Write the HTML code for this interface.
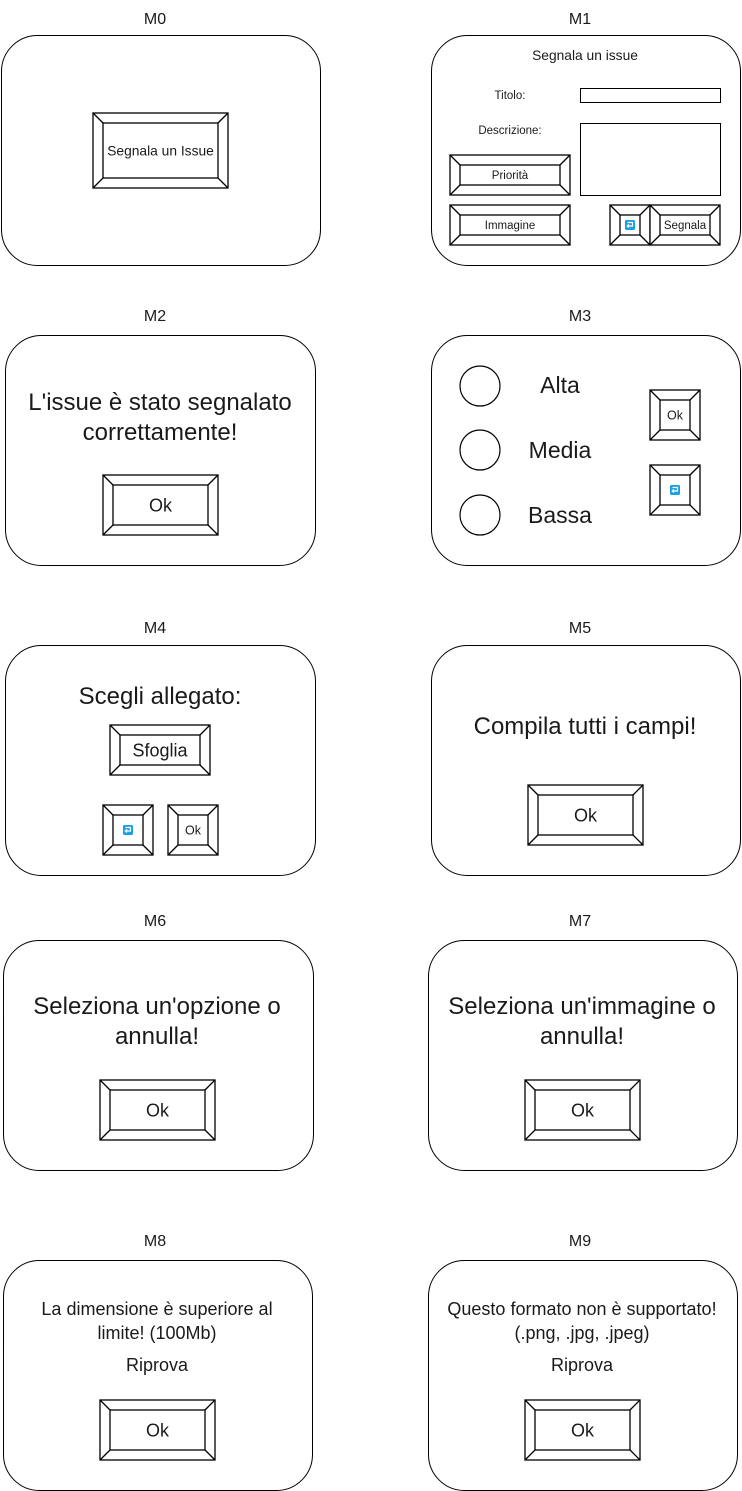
<!DOCTYPE html>
<html><head><meta charset="utf-8"><style>
html,body{margin:0;padding:0;background:#fff;width:742px;height:1491px;overflow:hidden}
svg{display:block}
text{font-family:"Liberation Sans",sans-serif;fill:#1a1a1a;text-anchor:middle}
</style></head><body>
<svg id="s" width="742" height="1491" xmlns="http://www.w3.org/2000/svg"></svg>
<script>
var o='';
function box(x1,y1,x2,y2){o+='<rect x="'+(x1+.5)+'" y="'+(y1+.5)+'" width="'+(x2-x1)+'" height="'+(y2-y1)+'" rx="36" ry="36" fill="#fff" stroke="#000" stroke-width="1"/>';}
function t(x,y,s,str){o+='<text x="'+x+'" y="'+y+'" font-size="'+s+'">'+str+'</text>';}
function btn(x1,y1,x2,y2,label,fs,icon){var i=10;
 o+='<g stroke="#000" stroke-width="1.3" fill="#fff"><rect x="'+x1+'" y="'+y1+'" width="'+(x2-x1)+'" height="'+(y2-y1)+'"/>';
 o+='<rect x="'+(x1+i)+'" y="'+(y1+i)+'" width="'+(x2-x1-2*i)+'" height="'+(y2-y1-2*i)+'"/>';
 o+='<path d="M'+x1+' '+y1+'L'+(x1+i)+' '+(y1+i)+'M'+x2+' '+y1+'L'+(x2-i)+' '+(y1+i)+'M'+x1+' '+y2+'L'+(x1+i)+' '+(y2-i)+'M'+x2+' '+y2+'L'+(x2-i)+' '+(y2-i)+'"/></g>';
 var cx=(x1+x2)/2,cy=(y1+y2)/2;
 if(icon){o+='<rect x="'+(cx-5)+'" y="'+(cy-5)+'" width="10" height="10" rx="1.5" fill="#1ba1e2"/><path d="M'+(cx-2.5)+' '+(cy-2.5)+'H'+(cx+2.5)+'V'+(cy+1)+'H'+(cx-2.5)+'M'+(cx-1)+' '+(cy-0.5)+'L'+(cx-2.7)+' '+(cy+1)+'L'+(cx-1)+' '+(cy+2.5)+'" stroke="#fff" stroke-width="1.2" fill="none"/>';}
 else t(cx,cy+fs*0.36,fs,label);}
[['M0',155,24],['M1',580,24],['M2',155,321],['M3',580,321],['M4',155,633],['M5',580,633],['M6',155,926],['M7',580,926],['M8',155,1246],['M9',580,1246]].forEach(function(a){t(a[1],a[2],16,a[0]);});
box(1,35,320,265);btn(93,113,228,188,'Segnala un Issue',13.8);
box(431,35,740,265);
t(585,60,13.8,'Segnala un issue');t(510,99,11.5,'Titolo:');t(510,134,11.5,'Descrizione:');
o+='<rect x="580.5" y="88.5" width="140" height="14" fill="#fff" stroke="#000"/><rect x="580.5" y="123.5" width="140" height="72" fill="#fff" stroke="#000"/>';
btn(450,155,570,195,'Priorità',11.5);btn(450,205,570,245,'Immagine',11.5);btn(610,205,650,245,'',11,1);btn(650,205,720,245,'Segnala',11.5);
box(5,335,315,565);t(160,410,24,"L'issue è stato segnalato");t(160,440,24,'correttamente!');btn(103,475,218,535,'Ok',18);
box(431,335,740,565);
[386,450,515].forEach(function(y){o+='<circle cx="480" cy="'+y+'" r="20" fill="#fff" stroke="#000" stroke-width="1.2"/>';});
t(560,393,23,'Alta');t(560,458,23,'Media');t(560,523,23,'Bassa');
btn(650,390,700,440,'Ok',12.5);btn(650,465,700,515,'',12,1);
box(5,645,315,875);t(160,704,24,'Scegli allegato:');btn(110,725,210,775,'Sfoglia',18);btn(103,805,153,855,'',12,1);btn(168,805,218,855,'Ok',12.5);
box(431,645,740,875);t(585,734,24,'Compila tutti i campi!');btn(528,785,643,845,'Ok',18);
box(3,940,313,1170);t(157,1014,24,"Seleziona un'opzione o");t(157,1044,24,'annulla!');btn(100,1080,215,1140,'Ok',18);
box(428,940,737,1170);t(582,1014,24,"Seleziona un'immagine o");t(582,1044,24,'annulla!');btn(525,1080,640,1140,'Ok',18);
box(3,1260,312,1490);t(157,1315,18,'La dimensione è superiore al');t(157,1339,18,'limite! (100Mb)');t(157,1371,18,'Riprova');btn(100,1400,215,1460,'Ok',18);
box(428,1260,737,1490);t(582,1315,18,'Questo formato non è supportato!');t(582,1339,18,'(.png, .jpg, .jpeg)');t(582,1371,18,'Riprova');btn(525,1400,640,1460,'Ok',18);
document.getElementById('s').innerHTML=o;
</script>
</body></html>
